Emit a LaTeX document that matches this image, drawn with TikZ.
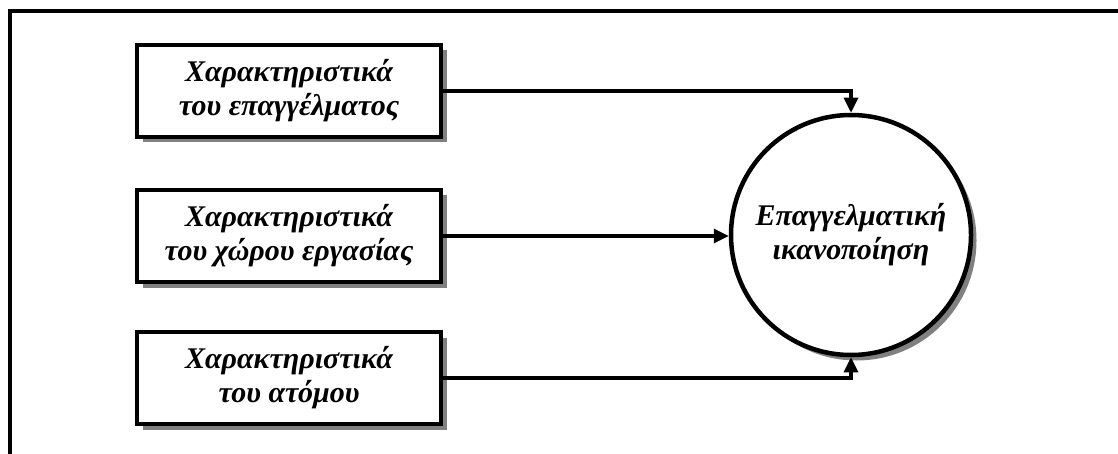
\documentclass[tikz,border=0pt]{standalone}
\usepackage{fontspec}
\setmainfont{Liberation Serif}
\usetikzlibrary{shadows,arrows.meta}
\begin{document}
\begin{tikzpicture}[x=1pt,y=-1pt,
  labelfont/.style={font=\fontsize{30}{34}\selectfont\bfseries\itshape},
  shade box/.style={drop shadow={shadow xshift=5.5pt, shadow yshift=-5.5pt, fill=black!50, opacity=1}},
  factor/.style={draw, line width=4.5pt, fill=white, minimum width=304pt, minimum height=92pt,
    inner sep=0pt, align=center, labelfont, shade box},
  outcome/.style={circle, draw, line width=4.5pt, fill=white, minimum size=240pt,
    inner sep=0pt, align=center, labelfont, shade box},
  link/.style={line width=3.2pt, -{Triangle[length=15pt,width=14pt]}}]
  \useasboundingbox (0,0) rectangle (1118,454);
  % page frame, only its top and left sides fall inside the picture
  \begin{scope}
    \clip (0,0) rectangle (1118,454);
    \draw[line width=3.2pt] (10,11) rectangle (1140,480);
  \end{scope}
  % factors
  \node[factor] (job)   at (289,91)  {Χαρακτηριστικά\\του επαγγέλματος};
  \node[factor] (place) at (289,236) {Χαρακτηριστικά\\του χώρου εργασίας};
  \node[factor] (self)  at (289,378) {Χαρακτηριστικά\\του ατόμου};
  % outcome
  \node[outcome] (sat) at (851,235) {Επαγγελματική\\ικανοποίηση};
  % connectors
  \draw[link] (job.east) -| (sat.north);
  \draw[link] (place.east) -- (place.east -| sat.west);
  \draw[link] (self.east) -| (sat.south);
\end{tikzpicture}
\end{document}
